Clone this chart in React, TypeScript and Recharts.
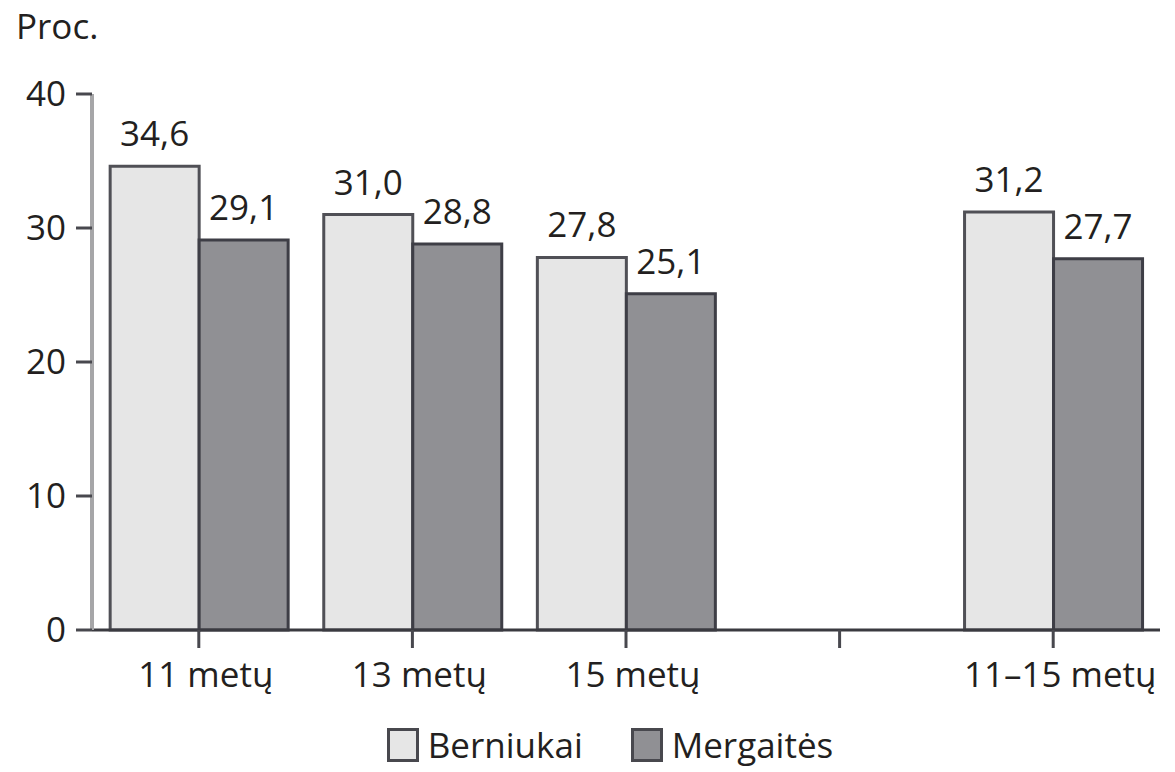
import { BarChart, Bar, XAxis, YAxis, Legend, LabelList } from 'recharts'

const categories = ['11 metų', '13 metų', '15 metų', '', '11–15 metų']
const boys = [34.6, 31.0, 27.8, null, 31.2]
const girls = [29.1, 28.8, 25.1, null, 27.7]
const yTicks = [0, 10, 20, 30, 40]

const FONT = '"Open Sans", sans-serif'
const TEXT = '#231f20'

const data = categories.map((name, i) => ({ name, boys: boys[i], girls: girls[i] }))

const fmt = (v: any) => (v == null ? '' : Number(v).toFixed(1).replace('.', ','))

function XTick({ x, y, payload }: any) {
  return (
    <text x={x + 7} y={y + 39} textAnchor="middle" fontFamily={FONT} fontSize={35} fill={TEXT}>
      {payload.value}
    </text>
  )
}

function LegendBox() {
  const items = [
    { label: 'Berniukai', fill: '#e6e6e6' },
    { label: 'Mergaitės', fill: '#909094' },
  ]
  return (
    <div style={{ display: 'flex', justifyContent: 'center', gap: 48, paddingLeft: 45, height: 50, alignItems: 'center' }}>
      {items.map(it => (
        <div key={it.label} style={{ display: 'flex', alignItems: 'center' }}>
          <div style={{ width: 26, height: 28, background: it.fill, border: '3px solid #48484e', marginRight: 9 }} />
          <span style={{ fontFamily: FONT, fontSize: 35, color: TEXT, lineHeight: '40px' }}>{it.label}</span>
        </div>
      ))}
    </div>
  )
}

export default function App() {
  return (
    <div style={{ position: 'fixed', left: 0, top: 0, width: 1175, height: 772, background: '#fff' }}>
      <div style={{ position: 'absolute', left: 16, top: 2, fontFamily: FONT, fontSize: 35, color: TEXT }}>Proc.</div>
      <BarChart
        width={1175}
        height={772}
        data={data}
        margin={{ top: 94, right: 15, bottom: 32, left: 0 }}
        barCategoryGap="8.5%"
        barGap={0}
      >
        <XAxis
          dataKey="name"
          interval={0}
          height={60}
          tickSize={18}
          tickMargin={0}
          tick={<XTick />}
          axisLine={{ stroke: '#3a3a40', strokeWidth: 3 }}
          tickLine={{ stroke: '#48484e', strokeWidth: 3 }}
        />
        <YAxis
          domain={[0, 40]}
          ticks={yTicks}
          width={92}
          tickSize={16}
          tickMargin={10}
          tick={{ fontFamily: FONT, fontSize: 35, fill: TEXT }}
          axisLine={{ stroke: '#a6a6a8', strokeWidth: 4 }}
          tickLine={{ stroke: '#48484e', strokeWidth: 3 }}
        />
        <Legend
          verticalAlign="bottom"
          content={() => <LegendBox />}
          wrapperStyle={{ bottom: 2, left: 0, width: 1175 }}
        />
        <Bar dataKey="boys" name="Berniukai" fill="#e6e6e6" stroke="#505056" strokeWidth={3} isAnimationActive={false}>
          <LabelList dataKey="boys" position="top" offset={20} formatter={fmt} fontFamily={FONT} fontSize={35} fill={TEXT} />
        </Bar>
        <Bar dataKey="girls" name="Mergaitės" fill="#909094" stroke="#3e3e46" strokeWidth={3} isAnimationActive={false}>
          <LabelList dataKey="girls" position="top" offset={20} formatter={fmt} fontFamily={FONT} fontSize={35} fill={TEXT} />
        </Bar>
      </BarChart>
    </div>
  )
}
